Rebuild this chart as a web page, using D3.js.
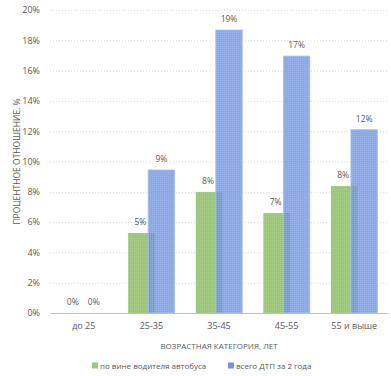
<!DOCTYPE html>
<html>
<head>
<meta charset="utf-8">
<script src="https://cdn.jsdelivr.net/npm/d3@7"></script>
<style>
  body { margin: 0; background: #fff; }
  text { font-family: "Open Sans", sans-serif; fill: #595959; }
</style>
</head>
<body>
<div id="chart"></div>
<script>
let categories = ['до 25', '25-35', '35-45', '45-55', '55 и выше'];
let driverFault = [0, 5.28, 7.99, 6.6, 8.38];
let totalTwoYears = [0, 9.44, 18.68, 16.96, 12.1];
let seriesNames = ['по вине водителя автобуса', 'всего ДТП за 2 года'];
let yTicks = [0, 2, 4, 6, 8, 10, 12, 14, 16, 18, 20];

let width = 391;
let height = 376;

let margin = {
  top: 10,
  right: 3,
  bottom: 63,
  left: 50
};

let x = d3.scaleBand()
  .domain(categories)
  .range([margin.left, width - margin.right]);

let y = d3.scaleLinear()
  .domain([0, 20])
  .range([height - margin.bottom, margin.top]);

let barW = 26.5;
let shift = 20; // сдвиг синего столбца относительно зелёного

const svg = d3.select('#chart').append('svg')
  .attr('width', width)
  .attr('height', height);

// штриховка для столбцов
let defs = svg.append('defs');
function hatch(id, color) {
  let p = defs.append('pattern')
    .attr('id', id)
    .attr('width', 2).attr('height', 2)
    .attr('patternUnits', 'userSpaceOnUse');
  p.append('rect').attr('width', 2).attr('height', 2).attr('fill', color);
  p.append('rect').attr('width', 1).attr('height', 1).attr('fill', '#fff').attr('opacity', 0.12);
}
hatch('hg', '#9bc878');
hatch('hb', '#7196e2');

// y ось и сетка
let yAxis = g => g
  .attr('transform', `translate(${margin.left}, 0)`)
  .call(d3.axisLeft(y).tickValues(yTicks).tickFormat(d => d + '%').tickSize(0).tickPadding(10))
  .call(g => g.select('.domain').remove())
  .call(g => g.selectAll('.tick line').clone()
    .attr('x2', width - margin.left - margin.right)
    .attr('stroke', '#d9d9d9')
    .attr('stroke-dasharray', '1,2'))
  .call(g => g.selectAll('.tick text')
    .attr('font-size', 9)
    .attr('fill', '#666')
    .style('font-family', '"Open Sans", sans-serif'));

svg.append('g').call(yAxis);

let center = c => x(c) + x.bandwidth() / 2;
let gx = c => center(c) - (barW + shift) / 2;

// зелёные столбцы
svg.append('g')
  .selectAll('rect')
  .data(categories)
  .join('rect')
  .attr('x', c => gx(c))
  .attr('y', (c, i) => y(driverFault[i]))
  .attr('width', barW)
  .attr('height', (c, i) => y(0) - y(driverFault[i]))
  .attr('fill', 'url(#hg)');

// синие столбцы, полупрозрачные поверх зелёных
svg.append('g')
  .selectAll('rect')
  .data(categories)
  .join('rect')
  .attr('x', c => gx(c) + shift)
  .attr('y', (c, i) => y(totalTwoYears[i]))
  .attr('width', barW)
  .attr('height', (c, i) => y(0) - y(totalTwoYears[i]))
  .attr('fill', 'url(#hb)')
  .attr('fill-opacity', 0.82)
  .attr('stroke', '#a9c0ee')
  .attr('stroke-width', 0.8);

// подписи значений
svg.append('g')
  .selectAll('text')
  .data(categories)
  .join('text')
  .attr('x', c => gx(c) + barW / 2 - 1)
  .attr('y', (c, i) => y(driverFault[i]) - 8)
  .attr('text-anchor', 'middle')
  .attr('font-size', 8.5)
  .text((c, i) => Math.round(driverFault[i]) + '%');

svg.append('g')
  .selectAll('text')
  .data(categories)
  .join('text')
  .attr('x', c => gx(c) + shift + barW / 2)
  .attr('y', (c, i) => y(totalTwoYears[i]) - 8)
  .attr('text-anchor', 'middle')
  .attr('font-size', 8.5)
  .text((c, i) => Math.round(totalTwoYears[i]) + '%');

// x ось
let xAxis = g => g
  .attr('transform', `translate(0, ${height - margin.bottom})`)
  .call(d3.axisBottom(x).tickSize(0).tickPadding(10))
  .call(g => g.select('.domain').attr('stroke', '#bfbfbf'))
  .call(g => g.selectAll('.tick text')
    .attr('font-size', 9)
    .attr('fill', '#666')
    .style('font-family', '"Open Sans", sans-serif'));

svg.append('g').call(xAxis);

// заголовки осей
svg.append('text')
  .attr('x', (margin.left + width - margin.right) / 2)
  .attr('y', 349)
  .attr('text-anchor', 'middle')
  .attr('font-size', 8)
  .text('ВОЗРАСТНАЯ КАТЕГОРИЯ, ЛЕТ');

svg.append('text')
  .attr('transform', `translate(20, ${(margin.top + height - margin.bottom) / 2}) rotate(-90)`)
  .attr('text-anchor', 'middle')
  .attr('font-size', 8.5)
  .text('ПРОЦЕНТНОЕ ОТНОШЕНИЕ, %');

// легенда
let legend = svg.append('g')
  .selectAll('g')
  .data(seriesNames)
  .join('g')
  .attr('transform', (d, i) => `translate(${i === 0 ? 92 : 228}, 368)`);

legend.append('rect')
  .attr('y', -5.5)
  .attr('width', 6).attr('height', 6)
  .attr('fill', (d, i) => i === 0 ? '#9bc878' : '#7196e2');

legend.append('text')
  .attr('x', 8)
  .attr('y', 0.5)
  .attr('font-size', 8)
  .text(d => d);
</script>
</body>
</html>
